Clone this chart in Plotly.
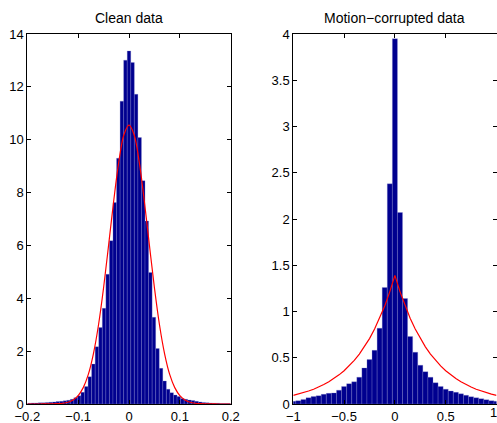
import plotly.graph_objects as go

# ---------------- data ----------------
# Clean data histogram (density), bin width 0.007, centres -0.196 .. 0.196
clean_bin_width = 0.007
clean_centers = [round(-0.196 + clean_bin_width * i, 3) for i in range(57)]
clean_density = [
    0.03, 0.04, 0.04, 0.05, 0.05, 0.06, 0.07, 0.08, 0.09, 0.10,
    0.12, 0.14, 0.18, 0.24, 0.31, 0.44, 0.66, 1.03, 1.51, 2.17,
    2.89, 3.62, 4.91, 6.18, 7.62, 9.30, 11.46, 13.01,
    13.36,
    12.92, 11.72, 10.08, 8.45, 6.92, 4.98, 3.28, 2.10, 1.35, 0.87,
    0.56, 0.43, 0.34, 0.28, 0.21, 0.18, 0.15, 0.13, 0.10, 0.08,
    0.06, 0.05, 0.04, 0.03, 0.03, 0.02, 0.02, 0.02,
]

# Gaussian fit curve
clean_fit_x = [round(-0.20 + 0.01 * i, 2) for i in range(41)]
clean_fit_y = [
    0.0, 0.0, 0.0, 0.001, 0.002, 0.004, 0.011, 0.029, 0.068, 0.154,
    0.32, 0.62, 1.12, 1.90, 2.99, 4.40, 6.03, 7.70, 9.17, 10.19,
    10.55,
    10.19, 9.17, 7.70, 6.03, 4.40, 2.99, 1.90, 1.12, 0.62, 0.32,
    0.154, 0.068, 0.029, 0.011, 0.004, 0.002, 0.001, 0.0, 0.0, 0.0,
]

# Motion-corrupted data histogram, bin width 0.05, centres -1 .. 1
motion_bin_width = 0.05
motion_centers = [round(-1.0 + motion_bin_width * i, 2) for i in range(41)]
motion_density = [
    0.03, 0.036, 0.05, 0.068, 0.08, 0.09, 0.105, 0.115, 0.12, 0.15,
    0.19, 0.22, 0.24, 0.29, 0.39, 0.48, 0.58, 0.82, 1.26, 2.38,
    3.95,
    2.07, 1.14, 0.73, 0.56, 0.42, 0.35, 0.29, 0.23, 0.19, 0.16,
    0.14, 0.126, 0.11, 0.094, 0.079, 0.068, 0.058, 0.047, 0.036, 0.03,
]

# Laplacian fit curve
motion_fit_x = [round(-1.0 + 0.05 * i, 2) for i in range(41)]
motion_fit_y = [
    0.093, 0.107, 0.122, 0.14, 0.16, 0.183, 0.21, 0.24, 0.275, 0.315,
    0.36, 0.412, 0.472, 0.54, 0.618, 0.707, 0.81, 0.927, 1.06, 1.215,
    1.39,
    1.215, 1.06, 0.927, 0.81, 0.707, 0.618, 0.54, 0.472, 0.412, 0.36,
    0.315, 0.275, 0.24, 0.21, 0.183, 0.16, 0.14, 0.122, 0.107, 0.093,
]

# tick labels
clean_xticks = [-0.2, -0.1, 0, 0.1, 0.2]
clean_yticks = [0, 2, 4, 6, 8, 10, 12, 14]
motion_xticks = [-1, -0.5, 0, 0.5, 1]
motion_xtick_labels = ["\u22121", "\u22120.5", "0", "0.5", ""]
motion_last_xtick_label = "1"   # drawn as an annotation so it is not dropped at the page edge
motion_yticks = [0, 0.5, 1, 1.5, 2, 2.5, 3, 3.5, 4]

titles = ["Clean data", "Motion\u2212corrupted data"]

# ---------------- figure ----------------
W, H = 497, 423
BAR_COLOR = "rgb(0,0,143)"
EDGE_COLOR = "rgba(140,140,210,0.7)"
FONT = "Liberation Sans, Arial, Helvetica, sans-serif"

fig = go.Figure()
fig.add_trace(go.Bar(x=clean_centers, y=clean_density, width=clean_bin_width,
                     marker=dict(color=BAR_COLOR, line=dict(color=EDGE_COLOR, width=0.4)),
                     xaxis="x", yaxis="y", showlegend=False))
fig.add_trace(go.Scatter(x=clean_fit_x, y=clean_fit_y, mode="lines",
                         line=dict(color="red", width=1.2, shape="spline"),
                         xaxis="x", yaxis="y", showlegend=False))
fig.add_trace(go.Bar(x=motion_centers, y=motion_density, width=motion_bin_width,
                     marker=dict(color=BAR_COLOR, line=dict(color=EDGE_COLOR, width=0.4)),
                     xaxis="x2", yaxis="y2", showlegend=False))
fig.add_trace(go.Scatter(x=motion_fit_x, y=motion_fit_y, mode="lines",
                         line=dict(color="red", width=1.2),
                         xaxis="x2", yaxis="y2", showlegend=False))

x1 = (27.3 / W, 230.7 / W)
x2 = (293.3 / W, 496.5 / W)
yd = (1 - 404 / H, 1 - 34 / H)
title_y = 1 - 17.5 / H
xlabel_y = 1 - 412.5 / H

axis_common = dict(showline=True, linecolor="black", linewidth=1, mirror="ticks",
                   ticks="inside", ticklen=4, tickcolor="black", showgrid=False,
                   zeroline=False, automargin=False, ticklabeloverflow="allow",
                   tickfont=dict(family=FONT, size=13, color="black"))

fig.update_layout(
    template="none",
    width=W, height=H,
    margin=dict(l=0, r=0, t=0, b=0, pad=0, autoexpand=False),
    paper_bgcolor="white", plot_bgcolor="white",
    bargap=0,
    hovermode=False,
    xaxis=dict(domain=x1, range=[-0.2, 0.2], tickvals=clean_xticks,
               anchor="y", **axis_common),
    yaxis=dict(domain=yd, range=[0, 14], tickvals=clean_yticks,
               anchor="x", **axis_common),
    xaxis2=dict(domain=x2, range=[-1, 1], tickvals=motion_xticks,
                ticktext=motion_xtick_labels, anchor="y2", **axis_common),
    yaxis2=dict(domain=yd, range=[0, 4], tickvals=motion_yticks,
                anchor="x2", **axis_common),
    annotations=[
        dict(text=titles[0], x=(x1[0] + x1[1]) / 2, y=title_y, xref="paper", yref="paper",
             showarrow=False, xanchor="center", yanchor="middle",
             font=dict(family=FONT, size=14, color="black")),
        dict(text=titles[1], x=(x2[0] + x2[1]) / 2, y=title_y, xref="paper", yref="paper",
             showarrow=False, xanchor="center", yanchor="middle",
             font=dict(family=FONT, size=14, color="black")),
        dict(text=motion_last_xtick_label, x=1 + 1.3 / W, y=xlabel_y, xref="paper", yref="paper",
             showarrow=False, xanchor="right", yanchor="middle", borderpad=0,
             font=dict(family=FONT, size=13, color="black")),
    ],
)

# remove the page's default body margin so the figure fills the 497x423 window exactly
fig.write_html("out.html",
               config={"displayModeBar": False, "staticPlot": True},
               post_script="document.body.style.margin='0';document.body.style.overflow='hidden';")
